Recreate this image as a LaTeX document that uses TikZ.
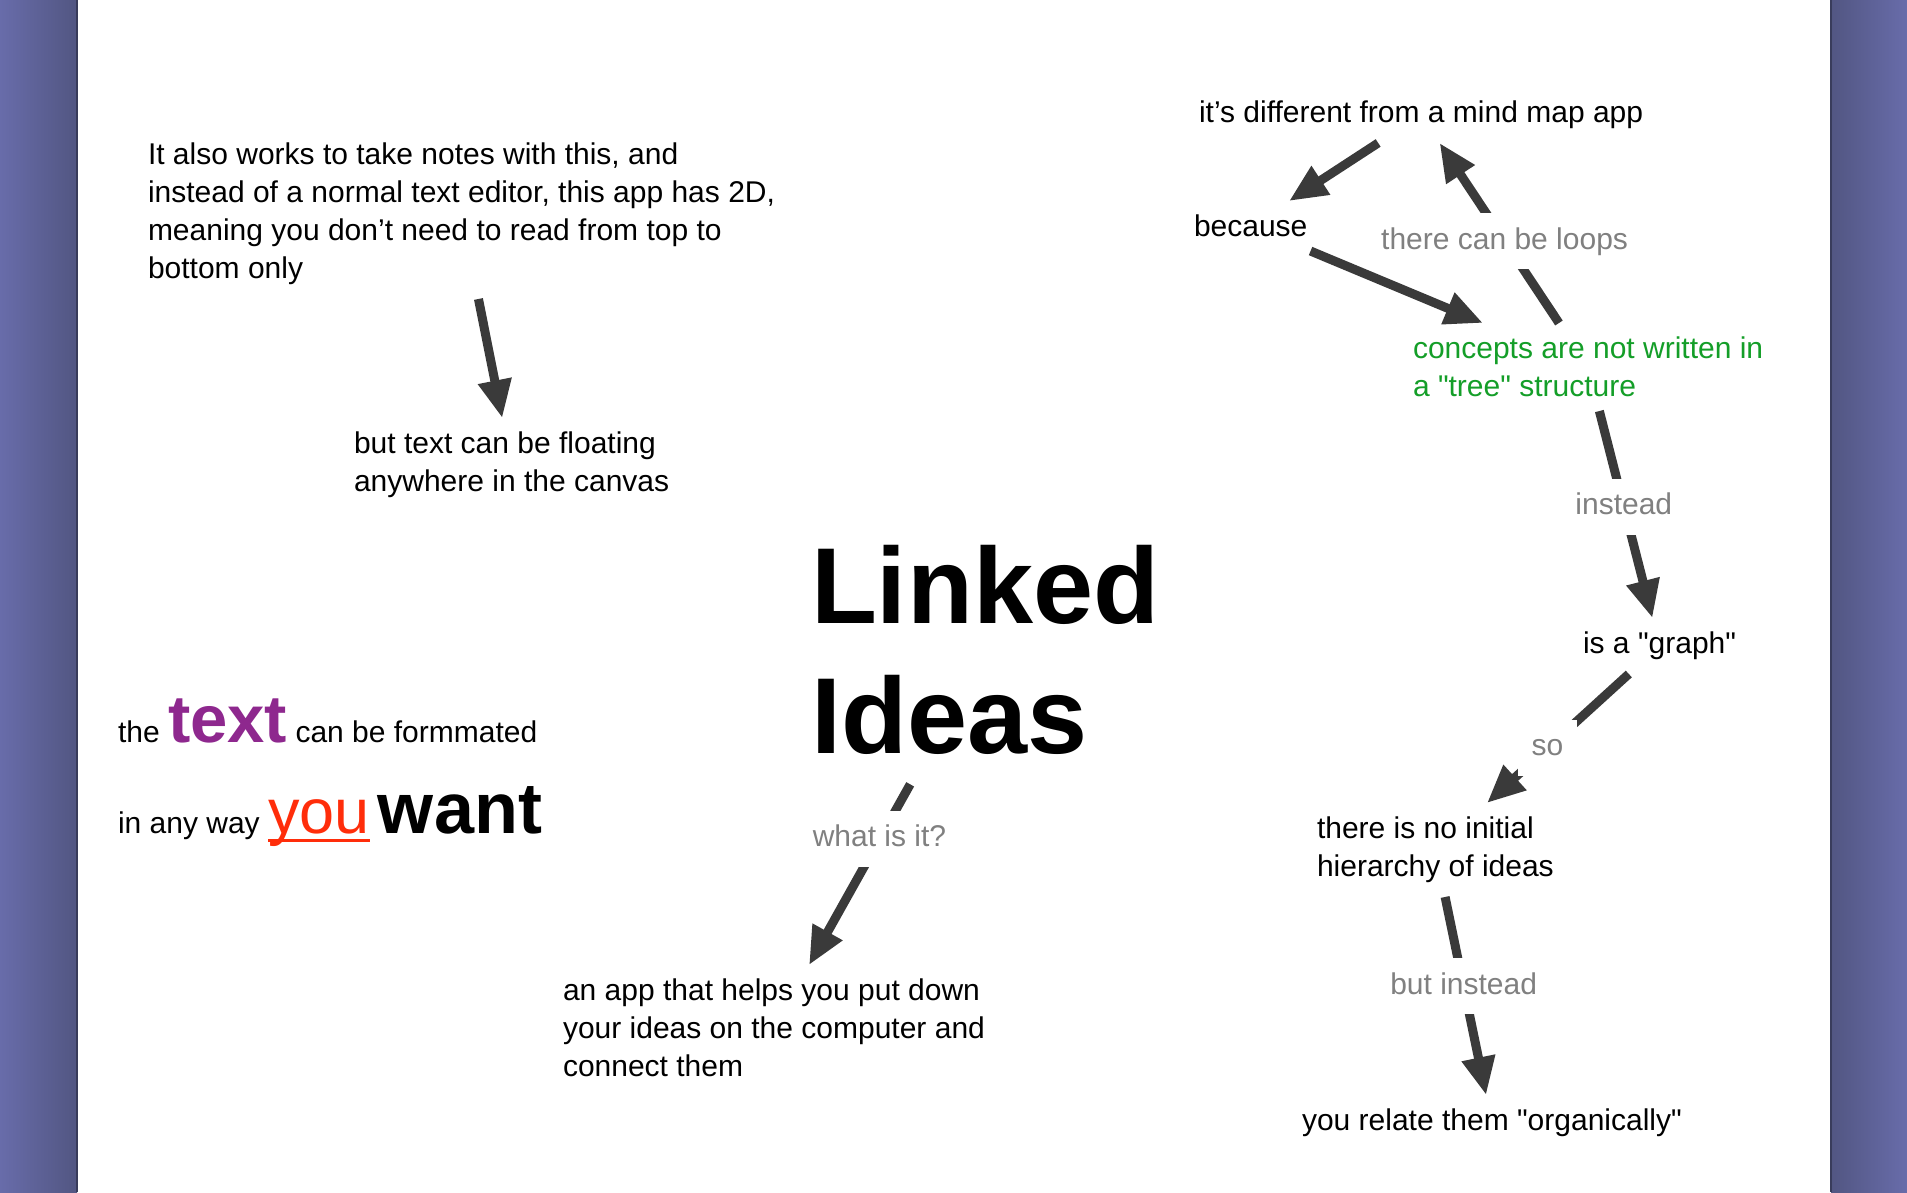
\documentclass[tikz,border=0pt]{standalone}
\usepackage{fontspec}
\setmainfont{Liberation Sans}
\usetikzlibrary{arrows.meta, calc}
\definecolor{band}{RGB}{104,108,170}
\definecolor{banddark}{RGB}{82,86,130}
\definecolor{arrowgray}{RGB}{58,58,58}
\definecolor{labelgray}{RGB}{128,128,128}
\definecolor{ideagreen}{RGB}{20,158,40}
\definecolor{textpurple}{RGB}{142,40,142}
\definecolor{youred}{RGB}{255,45,10}
\newcommand{\fatul}[1]{\setbox0\hbox{#1}\rlap{\rule[-9pt]{\wd0}{3.5pt}}\box0}
\newcommand{\dq}{\textquotedbl}

\begin{document}
\begin{tikzpicture}[x=1pt, y=-1pt,
  idea/.style={inner sep=0pt, outer sep=14pt, align=left, anchor=north west,
    font=\fontsize{30}{38}\selectfont},
  linkarrow/.style={draw=arrowgray, line width=9pt,
    -{Triangle[length=38pt, width=32pt]}},
  linklabel/.style={fill=white, text=labelgray, inner sep=14pt,
    text height=22pt, text depth=6pt, font=\fontsize{30}{38}\selectfont}]
  \useasboundingbox (0,0) rectangle (1907,1192);
  \shade[left color=band, right color=banddark] (0,0) rectangle (77,1192);
  \shade[left color=banddark, right color=band] (1831,0) rectangle (1907,1192);
  \draw[banddark!70!black, line width=1.5pt] (77,0) -- (77,1192);
  \draw[banddark!70!black, line width=1.5pt] (1831,0) -- (1831,1192);

  \node[idea] (notes) at (134,129) {It also works to take notes with this, and\\
    instead of a normal text editor, this app has 2D,\\
    meaning you don’t need to read from top to\\bottom only};
  \node[idea] (float) at (340,418) {but text can be floating\\anywhere in the canvas};
  \node[idea, outer sep=30pt, font=\fontsize{108}{130}\selectfont\bfseries]
    (title) at (781,515) {Linked\\Ideas};
  \node[idea] (app) at (549,965) {an app that helps you put down\\
    your ideas on the computer and\\connect them};
  \node[idea, anchor=base west] (fmtA) at (104,742)
    {the {\fontsize{67}{70}\selectfont\bfseries\color{textpurple}text} can be formmated};
  \node[idea, anchor=base west] (fmtB) at (104,833)
    {in any way {\fontsize{63}{70}\selectfont\color{youred}\fatul{you}}
     {\fontsize{72}{72}\selectfont\bfseries want}};
  \node[idea] (different) at (1185,87) {it’s different from a mind map app};
  \node[idea] (because) at (1180,201) {because};
  \node[idea, text=ideagreen] (concepts) at (1399,323)
    {concepts are not written in\\a \dq tree\dq{} structure};
  \node[idea] (graph) at (1569,618) {is a \dq graph\dq};
  \node[idea] (hierarchy) at (1303,803) {there is no initial\\hierarchy of ideas};
  \node[idea] (organic) at (1288,1095) {you relate them \dq organically\dq};

  \draw[linkarrow] (notes) -- (float);
  \draw[linkarrow] (title) -- (app);
  \node[linklabel] (whatis) at ($(title)!.5!(app)$) {what is it?};
  \draw[linkarrow] (different) -- (because);
  \draw[linkarrow] (concepts) -- (different);
  \node[linklabel] (loops) at ($(concepts)!.5!(different)$) {there can be loops};
  \draw[linkarrow] (because) -- (concepts);
  \draw[linkarrow] (concepts) -- (graph);
  \node[linklabel] (instead) at ($(concepts)!.5!(graph)$) {instead};
  \draw[linkarrow] (graph) -- (hierarchy);
  \node[linklabel] (so) at ($(graph)!.5!(hierarchy)$) {so};
  \draw[linkarrow] (hierarchy) -- (organic);
  \node[linklabel] (butinstead) at ($(hierarchy)!.5!(organic)$) {but instead};
\end{tikzpicture}
\end{document}
